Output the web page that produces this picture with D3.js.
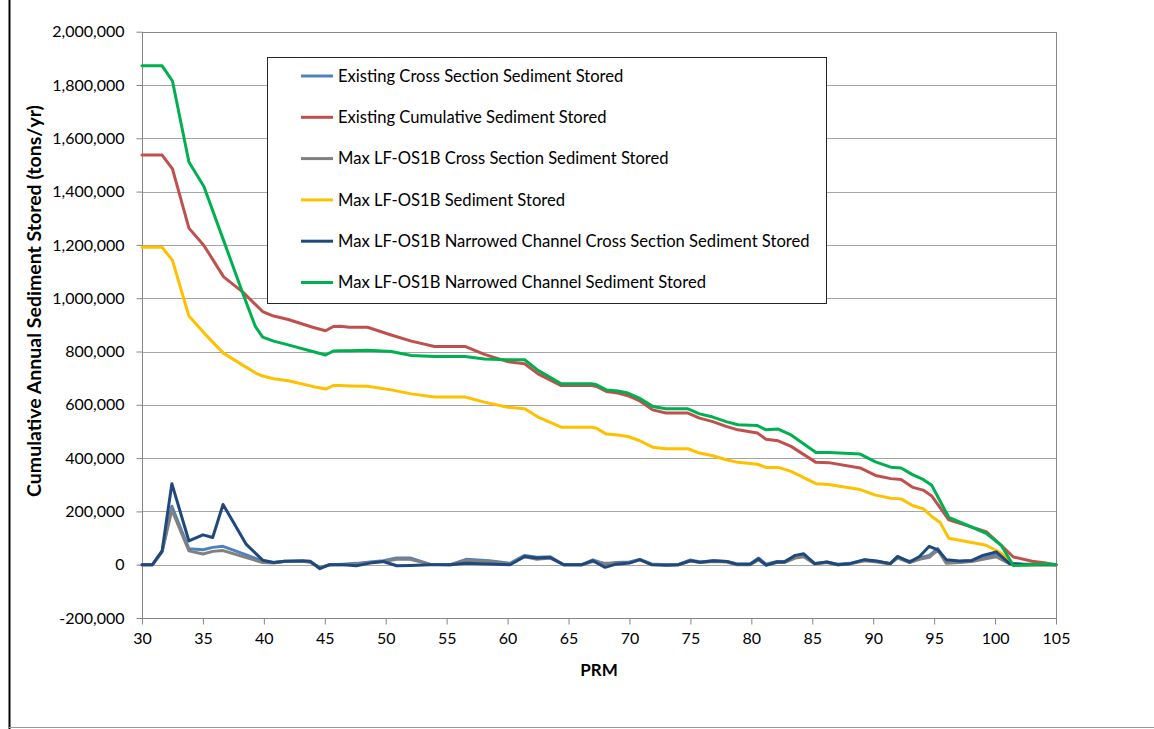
<!DOCTYPE html>
<html><head><meta charset="utf-8">
<script src="https://cdn.jsdelivr.net/npm/d3@7"></script>
<style>
body{margin:0;background:#fff}
svg{display:block}
text{font-family:Lato,"Open Sans",sans-serif}
</style>
</head><body>
<svg id="c" width="1154" height="729"></svg>
<script>
// ---------- DATA ----------
const xTicks = [30,35,40,45,50,55,60,65,70,75,80,85,90,95,100,105];
const yTicks = [-200000,0,200000,400000,600000,800000,1000000,1200000,1400000,1600000,1800000,2000000];

const seriesNames = [
  "Existing Cross Section Sediment Stored",
  "Existing Cumulative Sediment Stored",
  "Max LF-OS1B Cross Section Sediment Stored",
  "Max LF-OS1B Sediment Stored",
  "Max LF-OS1B Narrowed Channel Cross Section Sediment Stored",
  "Max LF-OS1B Narrowed Channel Sediment Stored"
];

// River mile positions of cumulative curves
const prmCum = [30,31.65,32.5,33.85,35.08,36.7,38.3,39.3,39.9,40.8,
  42.0,44.0,45.06,45.7,46.3,47.0,48.5,50.45,52.1,54.0,
  56.5,58.1,60.0,61.4,62.5,64.4,66.9,67.3,68.1,69.05,
  69.87,70.8,71.9,73.0,74.8,75.75,76.84,77.93,78.9,80.5,
  81.2,82.2,83.26,85.3,86.35,88.93,90.19,91.44,92.29,93.26,
  94.1,94.8,95.5,96.2,99.27,100.5,101.5,103.04,104.15,105];

const existingCum = [1537000,1537000,1485000,1263000,1198000,1080000,1022000,977000,950000,933000,
  920000,891000,878000,894000,895000,891000,891000,862000,839000,819000,
  819000,789000,762000,754000,716000,672000,672000,669000,650000,644000,
  634000,616000,581000,569000,569000,550000,537000,519000,506000,494000,
  471000,465000,444000,384000,383000,363000,335000,323000,320000,290000,
  280000,258000,213000,168000,124000,73000,29000,13000,6000,0];

const maxCum = [1191000,1191000,1142000,933000,870000,793000,748000,720000,708000,698000,
  690000,669000,659000,672000,672000,671000,670000,656000,641000,629000,
  629000,610000,591000,585000,554000,516000,516000,512000,490000,487000,
  481000,466000,441000,435000,435000,419000,409000,394000,384000,377000,
  365000,365000,350000,304000,301000,282000,261000,249000,247000,221000,
  210000,181000,158000,99000,73000,44000,0,0,0,0];

const narrowCum = [1872000,1872000,1815000,1511000,1419000,1216000,1015000,894000,854000,839000,
  825000,800000,787000,802000,803000,803000,805000,800000,785000,781000,
  781000,772000,769000,769000,729000,679000,679000,675000,656000,652000,
  644000,625000,594000,585000,585000,566000,554000,537000,525000,522000,
  506000,509000,487000,421000,421000,415000,386000,366000,363000,337000,
  320000,298000,238000,178000,118000,73000,-3000,0,3000,0];

// River mile positions of cross-section values
const prmXs = [30,30.86,31.65,32.45,33.85,35.0,35.8,36.65,38.56,39.9,
  40.8,41.7,43.2,43.8,44.6,45.4,46.5,47.6,48.7,49.8,
  50.9,52.0,53.6,55.3,56.6,58.5,60.2,61.4,62.4,63.5,
  64.6,66.1,67.0,68.0,68.9,70.0,70.85,71.8,73.0,74.0,
  75.0,75.8,76.9,78.0,78.8,79.9,80.6,81.2,82.1,82.7,
  83.6,84.3,85.2,86.2,87.1,88.1,89.3,90.3,91.4,92.0,
  93.0,93.8,94.6,95.3,96.0,97.1,98.1,99.0,100.1,101.2,
  102.5,103.9,105];

const existingXs = [0,0,50000,219000,60000,56000,65000,69000,37000,13000,
  8000,13000,13000,10000,-12000,0,2000,5000,10000,15000,
  25000,25000,2000,0,20000,15000,5000,35000,28000,30000,
  0,0,18000,3000,8000,10000,20000,3000,0,0,
  18000,10000,15000,12000,3000,3000,25000,2000,12000,12000,
  30000,35000,5000,10000,2000,5000,18000,12000,5000,28000,
  12000,25000,35000,60000,12000,12000,15000,25000,40000,5000,
  2000,2000,0];

const maxXs = [0,0,48000,206000,52000,40000,50000,53000,27000,8000,
  6000,12000,12000,10000,-10000,0,0,3000,8000,12000,
  20000,20000,2000,0,15000,12000,3000,30000,20000,25000,
  0,0,12000,5000,5000,8000,18000,2000,0,0,
  15000,8000,12000,10000,0,0,18000,0,8000,8000,
  25000,30000,3000,8000,0,3000,15000,10000,3000,25000,
  8000,20000,28000,55000,5000,8000,12000,20000,30000,3000,
  0,0,0];

const narrowXs = [0,0,52000,304000,89000,112000,102000,226000,76000,17000,
  8000,13000,15000,13000,-15000,0,0,-4000,6000,12000,
  -4000,-3000,0,0,5000,3000,0,31000,25000,27000,
  0,0,15000,-10000,2000,6000,19000,0,-2000,0,
  15000,9000,15000,12000,2000,2000,22000,-2000,10000,10000,
  35000,41000,4000,10000,0,4000,19000,14000,4000,31000,
  10000,31000,69000,56000,19000,14000,16000,35000,48000,4000,
  0,0,0];

const colors = ["#4F81BD","#C0504D","#808080","#FFC000","#1F497D","#00B050"];

// ---------- CHART ----------
const svg = d3.select("#c");
svg.append("rect").attr("width",1154).attr("height",729).attr("fill","#fff");

// outer frame fragments
svg.append("line").attr("x1",9.5).attr("x2",9.5).attr("y1",0).attr("y2",729).attr("stroke","#000").attr("stroke-width",2);
svg.append("line").attr("x1",9).attr("x2",1154).attr("y1",727.5).attr("y2",727.5).attr("stroke","#999").attr("stroke-width",1);

const L=142, R=1056, T=31.7, B=618;
const x = d3.scaleLinear().domain([30,105]).range([L,R]);
const y = d3.scaleLinear().domain([-200000,2000000]).range([B,T]);

// gridlines
svg.append("g").selectAll("line").data(yTicks).join("line")
  .attr("x1",L).attr("x2",R)
  .attr("y1",d=>Math.round(y(d))+0.5).attr("y2",d=>Math.round(y(d))+0.5)
  .attr("stroke","#A6A6A6").attr("stroke-width",1);

// plot border
svg.append("rect").attr("x",L+0.5).attr("y",Math.round(T)+0.5)
  .attr("width",R-L).attr("height",Math.round(B)-Math.round(T))
  .attr("fill","none").attr("stroke","#868686").attr("stroke-width",1);

const fmt = d => d3.format(",")(d).replace("\u2212","-");
const gy = svg.append("g").attr("transform",`translate(${L+0.5},0)`)
  .call(d3.axisLeft(y).tickValues(yTicks).tickFormat(fmt).tickSize(6).tickPadding(12));
gy.select(".domain").remove();
gy.selectAll(".tick line").attr("stroke","#868686");
gy.selectAll("text").attr("font-size",16).attr("fill","#000").style("font-family","Lato");

const gx = svg.append("g").attr("transform",`translate(0,${Math.round(B)+0.5})`)
  .call(d3.axisBottom(x).tickValues(xTicks).tickSize(6).tickPadding(8));
gx.select(".domain").remove();
gx.selectAll(".tick line").attr("stroke","#868686");
gx.selectAll("text").attr("font-size",16).attr("fill","#000").style("font-family","Lato");

// axis titles
svg.append("text").attr("x",(L+R)/2).attr("y",676).attr("text-anchor","middle")
  .attr("font-size",17).attr("font-weight","bold").text("PRM");
svg.append("text").attr("transform","translate(41,301) rotate(-90)").attr("text-anchor","middle")
  .attr("font-size",19.5).attr("font-weight","bold").text("Cumulative Annual Sediment Stored (tons/yr)");

// series
const series = [
  {xs:prmXs, ys:existingXs},
  {xs:prmCum, ys:existingCum},
  {xs:prmXs, ys:maxXs},
  {xs:prmCum, ys:maxCum},
  {xs:prmXs, ys:narrowXs},
  {xs:prmCum, ys:narrowCum}
];
const line = d3.line().x(d=>x(d[0])).y(d=>y(d[1]));
series.forEach((s,i)=>{
  const n = Math.min(s.xs.length, s.ys.length);
  const pts = d3.range(n).map(k=>[s.xs[k], s.ys[k]]);
  svg.append("path").datum(pts).attr("d",line)
    .attr("fill","none").attr("stroke",colors[i]).attr("stroke-width",3)
    .attr("stroke-linejoin","round").attr("stroke-linecap","round");
});

// legend
const lg = svg.append("g");
lg.append("rect").attr("x",267.5).attr("y",57.5).attr("width",559).attr("height",246)
  .attr("fill","#fff").attr("stroke","#262626").attr("stroke-width",1);
seriesNames.forEach((name,i)=>{
  const cy = 76 + i*41.3;
  lg.append("line").attr("x1",301).attr("x2",333).attr("y1",cy).attr("y2",cy)
    .attr("stroke",colors[i]).attr("stroke-width",3);
  lg.append("text").attr("x",338).attr("y",cy).attr("dy","0.35em")
    .attr("font-size",16.6).attr("fill","#000").text(name);
});
</script>
</body></html>
